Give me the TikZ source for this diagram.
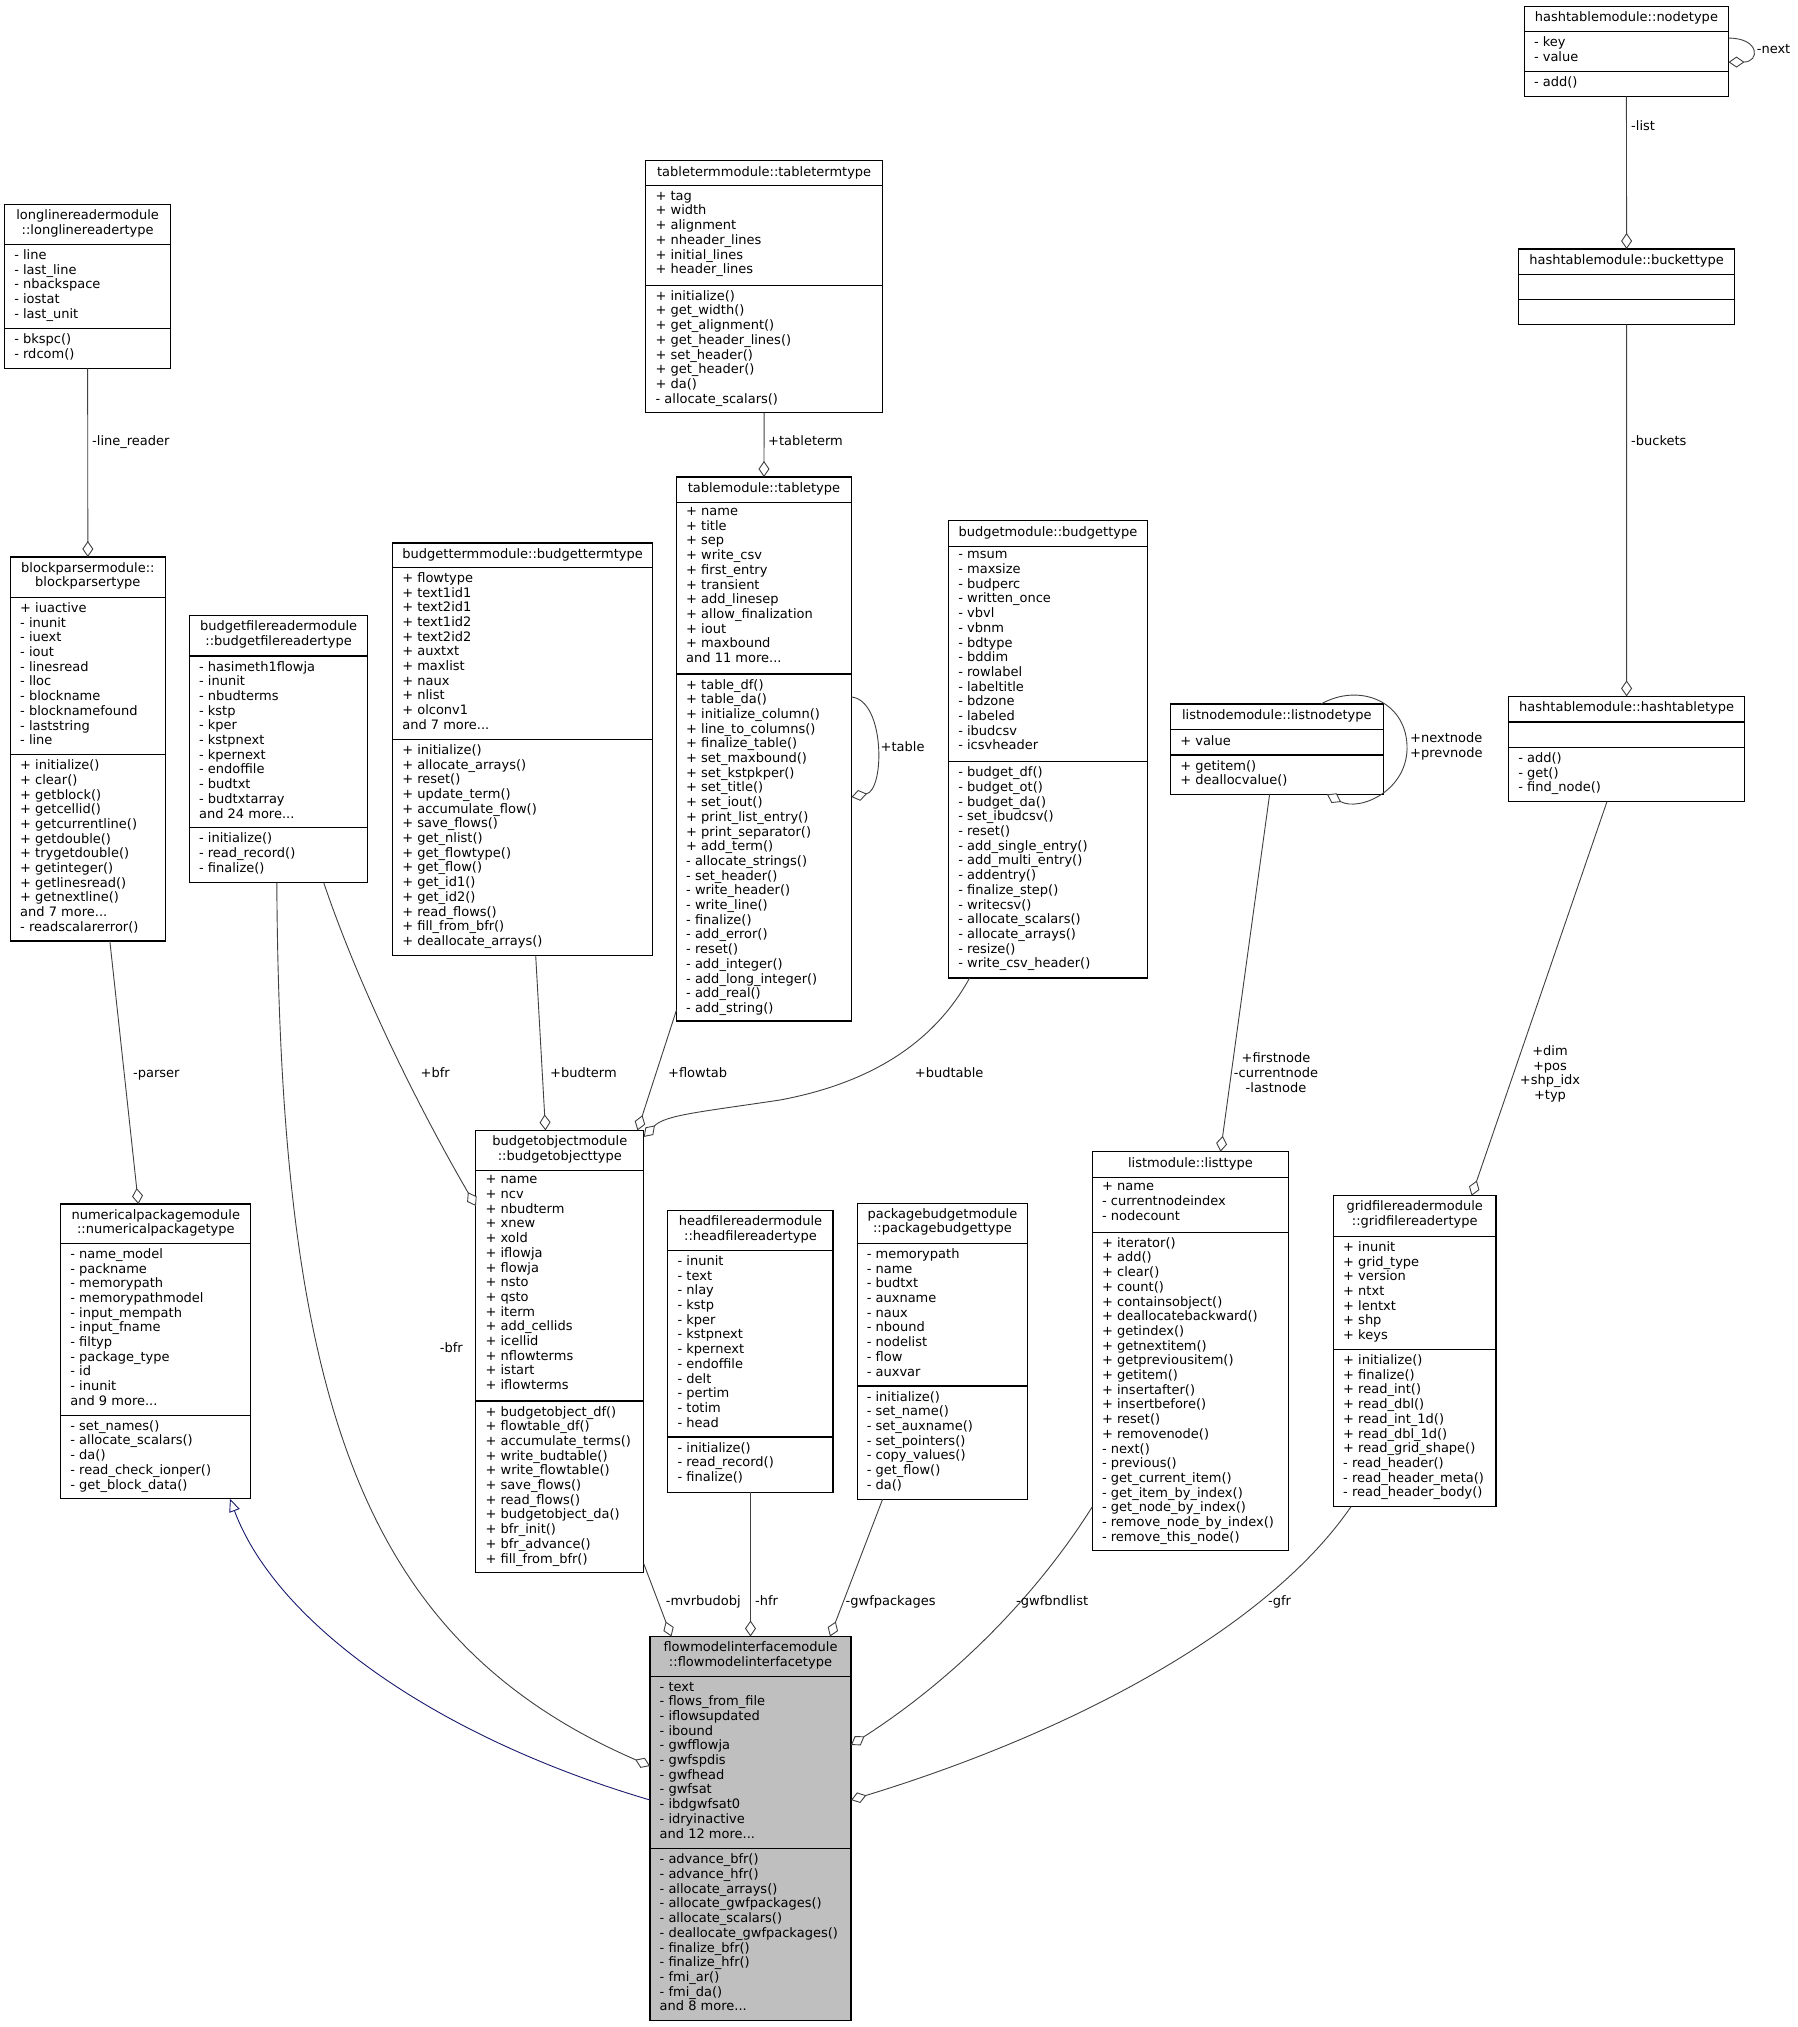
\documentclass[tikz,border=0pt]{standalone}
\usepackage{fontspec}
\setmainfont{DejaVu Sans}
\usetikzlibrary{arrows.meta}
\definecolor{edgegray}{HTML}{404040}
\definecolor{navy}{HTML}{191970}
\definecolor{fmigray}{HTML}{BFBFBF}
\tikzset{
  kbox/.style={draw=black, line width=1.1pt, inner sep=0pt, outer sep=0pt, rectangle},
  kline/.style={draw=black, line width=1.1pt},
  txt/.style={font=\fontsize{13}{14.7}\selectfont, inner sep=0pt, execute at begin node=\strut, execute at end node=\strut},
  htext/.style={txt, anchor=north, align=center, inner ysep=5pt},
  mtext/.style={txt, anchor=north west, align=left, inner ysep=5pt},
  lbl/.style={txt, anchor=west, align=left},
  clbl/.style={txt, anchor=center, align=center},
  agg/.style={draw=edgegray, line width=0.9pt, -{Diamond[open, length=16pt, width=11pt, fill=white]}},
  inh/.style={draw=navy, line width=0.9pt, {Triangle[open, length=13pt, width=11pt, fill=white]}-}
}
% #1 fill, #2 name, #3 L, #4 T, #5 R, #6 S1, #7 S2, #8 B
\newcommand\klass[8][white]{%
  \node[kbox, fill=#1, minimum width={#5-#3}, minimum height={#8-#4}, anchor=north west] (#2) at (#3,#4) {};
  \draw[kline] (#3,#6) -- (#5,#6) (#3,#7) -- (#5,#7);
  \coordinate (#2-h) at ({(#3+#5)/2},#4);
  \coordinate (#2-a) at ({#3+9.5},#6);
  \coordinate (#2-m) at ({#3+9.5},#7);
}
\begin{document}
\begin{tikzpicture}[x=1pt,y=-1pt]
\useasboundingbox (0,0) rectangle (1797,2027);
\fill[white] (0,0) rectangle (1797,2027);

% ---------------- classes ----------------
\klass{llr}{4.6}{204.6}{170.7}{244.4}{328.6}{368.4}
\node[htext] (llr-t) at (llr-h) {longlinereadermodule\\::longlinereadertype};
\node[mtext] (llr-at) at (llr-a) {- line\\- last\_line\\- nbackspace\\- iostat\\- last\_unit};
\node[mtext] (llr-mt) at (llr-m) {- bkspc()\\- rdcom()};

\klass{bp}{10.5}{557}{165.2}{597.4}{754.6}{941}
\node[htext] (bp-t) at (bp-h) {blockparsermodule::\\blockparsertype};
\node[mtext] (bp-at) at (bp-a) {+ iuactive\\- inunit\\- iuext\\- iout\\- linesread\\- lloc\\- blockname\\- blocknamefound\\- laststring\\- line};
\node[mtext] (bp-mt) at (bp-m) {+ initialize()\\+ clear()\\+ getblock()\\+ getcellid()\\+ getcurrentline()\\+ getdouble()\\+ trygetdouble()\\+ getinteger()\\+ getlinesread()\\+ getnextline()\\and 7 more...\\- readscalarerror()};

\klass{bfr}{189.4}{615.3}{367.8}{656}{827.6}{882.6}
\node[htext] (bfr-t) at (bfr-h) {budgetfilereadermodule\\::budgetfilereadertype};
\node[mtext] (bfr-at) at (bfr-a) {- hasimeth1flowja\\- inunit\\- nbudterms\\- kstp\\- kper\\- kstpnext\\- kpernext\\- endoffile\\- budtxt\\- budtxtarray\\and 24 more...};
\node[mtext] (bfr-mt) at (bfr-m) {- initialize()\\- read\_record()\\- finalize()};

\klass{bt}{392.6}{543}{652.7}{567.3}{739.3}{955.8}
\node[htext] (bt-t) at (bt-h) {budgettermmodule::budgettermtype};
\node[mtext] (bt-at) at (bt-a) {+ flowtype\\+ text1id1\\+ text2id1\\+ text1id2\\+ text2id2\\+ auxtxt\\+ maxlist\\+ naux\\+ nlist\\+ olconv1\\and 7 more...};
\node[mtext] (bt-mt) at (bt-m) {+ initialize()\\+ allocate\_arrays()\\+ reset()\\+ update\_term()\\+ accumulate\_flow()\\+ save\_flows()\\+ get\_nlist()\\+ get\_flowtype()\\+ get\_flow()\\+ get\_id1()\\+ get\_id2()\\+ read\_flows()\\+ fill\_from\_bfr()\\+ deallocate\_arrays()};

\klass{tt}{645.9}{160.7}{882.4}{185.9}{285.2}{412.7}
\node[htext] (tt-t) at (tt-h) {tabletermmodule::tabletermtype};
\node[mtext] (tt-at) at (tt-a) {+ tag\\+ width\\+ alignment\\+ nheader\_lines\\+ initial\_lines\\+ header\_lines};
\node[mtext] (tt-mt) at (tt-m) {+ initialize()\\+ get\_width()\\+ get\_alignment()\\+ get\_header\_lines()\\+ set\_header()\\+ get\_header()\\+ da()\\- allocate\_scalars()};

\klass{tab}{676.5}{477}{851.4}{502.2}{674}{1021}
\node[htext] (tab-t) at (tab-h) {tablemodule::tabletype};
\node[mtext] (tab-at) at (tab-a) {+ name\\+ title\\+ sep\\+ write\_csv\\+ first\_entry\\+ transient\\+ add\_linesep\\+ allow\_finalization\\+ iout\\+ maxbound\\and 11 more...};
\node[mtext] (tab-mt) at (tab-m) {+ table\_df()\\+ table\_da()\\+ initialize\_column()\\+ line\_to\_columns()\\+ finalize\_table()\\+ set\_maxbound()\\+ set\_kstpkper()\\+ set\_title()\\+ set\_iout()\\+ print\_list\_entry()\\+ print\_separator()\\+ add\_term()\\- allocate\_strings()\\- set\_header()\\- write\_header()\\- write\_line()\\- finalize()\\- add\_error()\\- reset()\\- add\_integer()\\- add\_long\_integer()\\- add\_real()\\- add\_string()};

\klass{bud}{948.6}{520.6}{1147.3}{546.4}{761.7}{978}
\node[htext] (bud-t) at (bud-h) {budgetmodule::budgettype};
\node[mtext] (bud-at) at (bud-a) {- msum\\- maxsize\\- budperc\\- written\_once\\- vbvl\\- vbnm\\- bdtype\\- bddim\\- rowlabel\\- labeltitle\\- bdzone\\- labeled\\- ibudcsv\\- icsvheader};
\node[mtext] (bud-mt) at (bud-m) {- budget\_df()\\- budget\_ot()\\- budget\_da()\\- set\_ibudcsv()\\- reset()\\- add\_single\_entry()\\- add\_multi\_entry()\\- addentry()\\- finalize\_step()\\- writecsv()\\- allocate\_scalars()\\- allocate\_arrays()\\- resize()\\- write\_csv\_header()};

\klass{nt}{1524.3}{6.1}{1728.5}{31.6}{71.4}{96.4}
\node[htext] (nt-t) at (nt-h) {hashtablemodule::nodetype};
\node[mtext] (nt-at) at (nt-a) {- key\\- value};
\node[mtext] (nt-mt) at (nt-m) {- add()};

\klass{bk}{1518.9}{249}{1734.3}{274.5}{299.5}{324.5}
\node[htext] (bk-t) at (bk-h) {hashtablemodule::buckettype};

\klass{ht}{1508.6}{696.4}{1744.6}{722}{747.4}{801.5}
\node[htext] (ht-t) at (ht-h) {hashtablemodule::hashtabletype};
\node[mtext] (ht-mt) at (ht-m) {- add()\\- get()\\- find\_node()};

\klass{ln}{1170.6}{704}{1383.1}{729.6}{755}{794.4}
\node[htext] (ln-t) at (ln-h) {listnodemodule::listnodetype};
\node[mtext] (ln-at) at (ln-a) {+ value};
\node[mtext] (ln-mt) at (ln-m) {+ getitem()\\+ deallocvalue()};

\klass{lt}{1092.4}{1151.7}{1288.4}{1177.4}{1232.2}{1550.6}
\node[htext] (lt-t) at (lt-h) {listmodule::listtype};
\node[mtext] (lt-at) at (lt-a) {+ name\\- currentnodeindex\\- nodecount};
\node[mtext] (lt-mt) at (lt-m) {+ iterator()\\+ add()\\+ clear()\\+ count()\\+ containsobject()\\+ deallocatebackward()\\+ getindex()\\+ getnextitem()\\+ getpreviousitem()\\+ getitem()\\+ insertafter()\\+ insertbefore()\\+ reset()\\+ removenode()\\- next()\\- previous()\\- get\_current\_item()\\- get\_item\_by\_index()\\- get\_node\_by\_index()\\- remove\_node\_by\_index()\\- remove\_this\_node()};

\klass{gf}{1333.5}{1195.7}{1496}{1236.3}{1349.5}{1506.6}
\node[htext] (gf-t) at (gf-h) {gridfilereadermodule\\::gridfilereadertype};
\node[mtext] (gf-at) at (gf-a) {+ inunit\\+ grid\_type\\+ version\\+ ntxt\\+ lentxt\\+ shp\\+ keys};
\node[mtext] (gf-mt) at (gf-m) {+ initialize()\\+ finalize()\\+ read\_int()\\+ read\_dbl()\\+ read\_int\_1d()\\+ read\_dbl\_1d()\\+ read\_grid\_shape()\\- read\_header()\\- read\_header\_meta()\\- read\_header\_body()};

\klass{np}{60.7}{1204}{250.9}{1243.3}{1415.2}{1498.7}
\node[htext] (np-t) at (np-h) {numericalpackagemodule\\::numericalpackagetype};
\node[mtext] (np-at) at (np-a) {- name\_model\\- packname\\- memorypath\\- memorypathmodel\\- input\_mempath\\- input\_fname\\- filtyp\\- package\_type\\- id\\- inunit\\and 9 more...};
\node[mtext] (np-mt) at (np-m) {- set\_names()\\- allocate\_scalars()\\- da()\\- read\_check\_ionper()\\- get\_block\_data()};

\klass{bo}{475.9}{1130.4}{643.75}{1170.5}{1401}{1572.7}
\node[htext] (bo-t) at (bo-h) {budgetobjectmodule\\::budgetobjecttype};
\node[mtext] (bo-at) at (bo-a) {+ name\\+ ncv\\+ nbudterm\\+ xnew\\+ xold\\+ iflowja\\+ flowja\\+ nsto\\+ qsto\\+ iterm\\+ add\_cellids\\+ icellid\\+ nflowterms\\+ istart\\+ iflowterms};
\node[mtext] (bo-mt) at (bo-m) {+ budgetobject\_df()\\+ flowtable\_df()\\+ accumulate\_terms()\\+ write\_budtable()\\+ write\_flowtable()\\+ save\_flows()\\+ read\_flows()\\+ budgetobject\_da()\\+ bfr\_init()\\+ bfr\_advance()\\+ fill\_from\_bfr()};

\klass{hf}{667.9}{1210.6}{833}{1250.4}{1437}{1492.1}
\node[htext] (hf-t) at (hf-h) {headfilereadermodule\\::headfilereadertype};
\node[mtext] (hf-at) at (hf-a) {- inunit\\- text\\- nlay\\- kstp\\- kper\\- kstpnext\\- kpernext\\- endoffile\\- delt\\- pertim\\- totim\\- head};
\node[mtext] (hf-mt) at (hf-m) {- initialize()\\- read\_record()\\- finalize()};

\klass{pb}{857.1}{1203.2}{1027.7}{1243.4}{1386}{1499.2}
\node[htext] (pb-t) at (pb-h) {packagebudgetmodule\\::packagebudgettype};
\node[mtext] (pb-at) at (pb-a) {- memorypath\\- name\\- budtxt\\- auxname\\- naux\\- nbound\\- nodelist\\- flow\\- auxvar};
\node[mtext] (pb-mt) at (pb-m) {- initialize()\\- set\_name()\\- set\_auxname()\\- set\_pointers()\\- copy\_values()\\- get\_flow()\\- da()};

\klass[fmigray]{fmi}{650}{1636.5}{851}{1676.7}{1848.7}{2020.4}
\node[htext] (fmi-t) at (fmi-h) {flowmodelinterfacemodule\\::flowmodelinterfacetype};
\node[mtext] (fmi-at) at (fmi-a) {- text\\- flows\_from\_file\\- iflowsupdated\\- ibound\\- gwfflowja\\- gwfspdis\\- gwfhead\\- gwfsat\\- ibdgwfsat0\\- idryinactive\\and 12 more...};
\node[mtext] (fmi-mt) at (fmi-m) {- advance\_bfr()\\- advance\_hfr()\\- allocate\_arrays()\\- allocate\_gwfpackages()\\- allocate\_scalars()\\- deallocate\_gwfpackages()\\- finalize\_bfr()\\- finalize\_hfr()\\- fmi\_ar()\\- fmi\_da()\\and 8 more...};

% ---------------- connectors ----------------
\draw[agg] (llr.south) -- (bp.north);
\node[lbl] (l-linereader) at (92,443) {-line\_reader};

\draw[agg] ([xshift=22pt]bp.south) -- ([shift={(77.7,0)}]np.north west);
\node[lbl] (l-parser) at (133,1074.5) {-parser};

\draw[agg] ([shift={(87.4,0)}]bfr.south west) .. controls (280,1400) and (360,1640) .. ([shift={(0,129.5)}]fmi.north west);
\node[lbl] (l-bfr2) at (439.7,1350) {-bfr};

\draw[agg] ([shift={(134.3,0)}]bfr.south west) .. controls (360,990) and (420,1110) .. ([shift={(0,75.6)}]bo.north west);
\node[lbl] (l-bfr) at (420.5,1074.5) {+bfr};

\draw[agg] ([shift={(143.1,0)}]bt.south west) -- ([shift={(69.6,0)}]bo.north west);
\node[lbl] (l-budterm) at (550,1074.5) {+budterm};

\draw[agg] ([shift={(0,-11)}]tab.south west) -- ([shift={(-6.25,0)}]bo.north east);
\node[lbl] (l-flowtab) at (667.9,1074.5) {+flowtab};

\draw[agg] ([shift={(21,0)}]bud.south west) .. controls (930,1050) and (860,1085) .. (780,1100) .. controls (700,1112) and (665,1115) .. ([shift={(0,6.5)}]bo.north east);
\node[lbl] (l-budtable) at (914.7,1074.5) {+budtable};

\draw[agg] (tt.south) -- (tab.north);
\node[lbl] (l-tableterm) at (768,443) {+tableterm};

\draw[agg] ([shift={(0,220)}]tab.north east) .. controls (885,700) and (885,790) .. ([shift={(0,320)}]tab.north east);
\node[lbl] (l-table) at (880.5,748.5) {+table};

\draw[agg] ([shift={(0,32)}]nt.north east) .. controls (1760,38) and (1760,62) .. ([shift={(0,56)}]nt.north east);
\node[lbl] (l-next) at (1756.6,50.5) {-next};

\draw[agg] (nt.south) -- (bk.north);
\node[lbl] (l-list) at (1631,127.6) {-list};

\draw[agg] (bk.south) -- (ht.north);
\node[lbl] (l-buckets) at (1631,443) {-buckets};

\draw[agg] ([shift={(150.4,0)}]ln.north west) .. controls (1358,683) and (1405,700) .. (1407,745) .. controls (1409,790) and (1360,812) .. ([shift={(156.4,0)}]ln.south west);
\node[lbl] (l-nextnode) at (1410,747.4) {+nextnode\\+prevnode};

\draw[agg] ([shift={(99,0)}]ln.south west) -- ([shift={(128.1,0)}]lt.north west);
\node[clbl] (l-firstnode) at (1276,1074.6) {+firstnode\\-currentnode\\-lastnode};

\draw[agg] ([shift={(98.4,0)}]ht.south west) -- ([shift={(138.1,0)}]gf.north west);
\node[clbl] (l-dim) at (1550,1074.9) {+dim\\+pos\\+shp\_idx\\+typ};

\draw[inh] ([shift={(169.3,0)}]np.south west) .. controls (275,1620) and (430,1735) .. ([shift={(0,163.5)}]fmi.north west);

\draw[agg] ([shift={(0,-9)}]bo.south east) -- ([shift={(21.4,0)}]fmi.north west);
\node[lbl] (l-mvr) at (665.6,1603) {-mvrbudobj};

\draw[agg] (hf.south) -- (fmi.north);
\node[lbl] (l-hfr) at (755,1603) {-hfr};

\draw[agg] ([shift={(25.5,0)}]pb.south west) -- ([shift={(180,0)}]fmi.north west);
\node[lbl] (l-gwfpk) at (845.5,1603) {-gwfpackages};

\draw[agg] ([shift={(0,-44)}]lt.south west) .. controls (1040,1590) and (960,1675) .. ([shift={(0,108.5)}]fmi.north east);
\node[lbl] (l-gwfbnd) at (1016,1603) {-gwfbndlist};

\draw[agg] ([shift={(17.5,0)}]gf.south west) .. controls (1270,1625) and (1080,1730) .. ([shift={(0,163.5)}]fmi.north east);
\node[lbl] (l-gfr) at (1268,1603) {-gfr};
\end{tikzpicture}
\end{document}
